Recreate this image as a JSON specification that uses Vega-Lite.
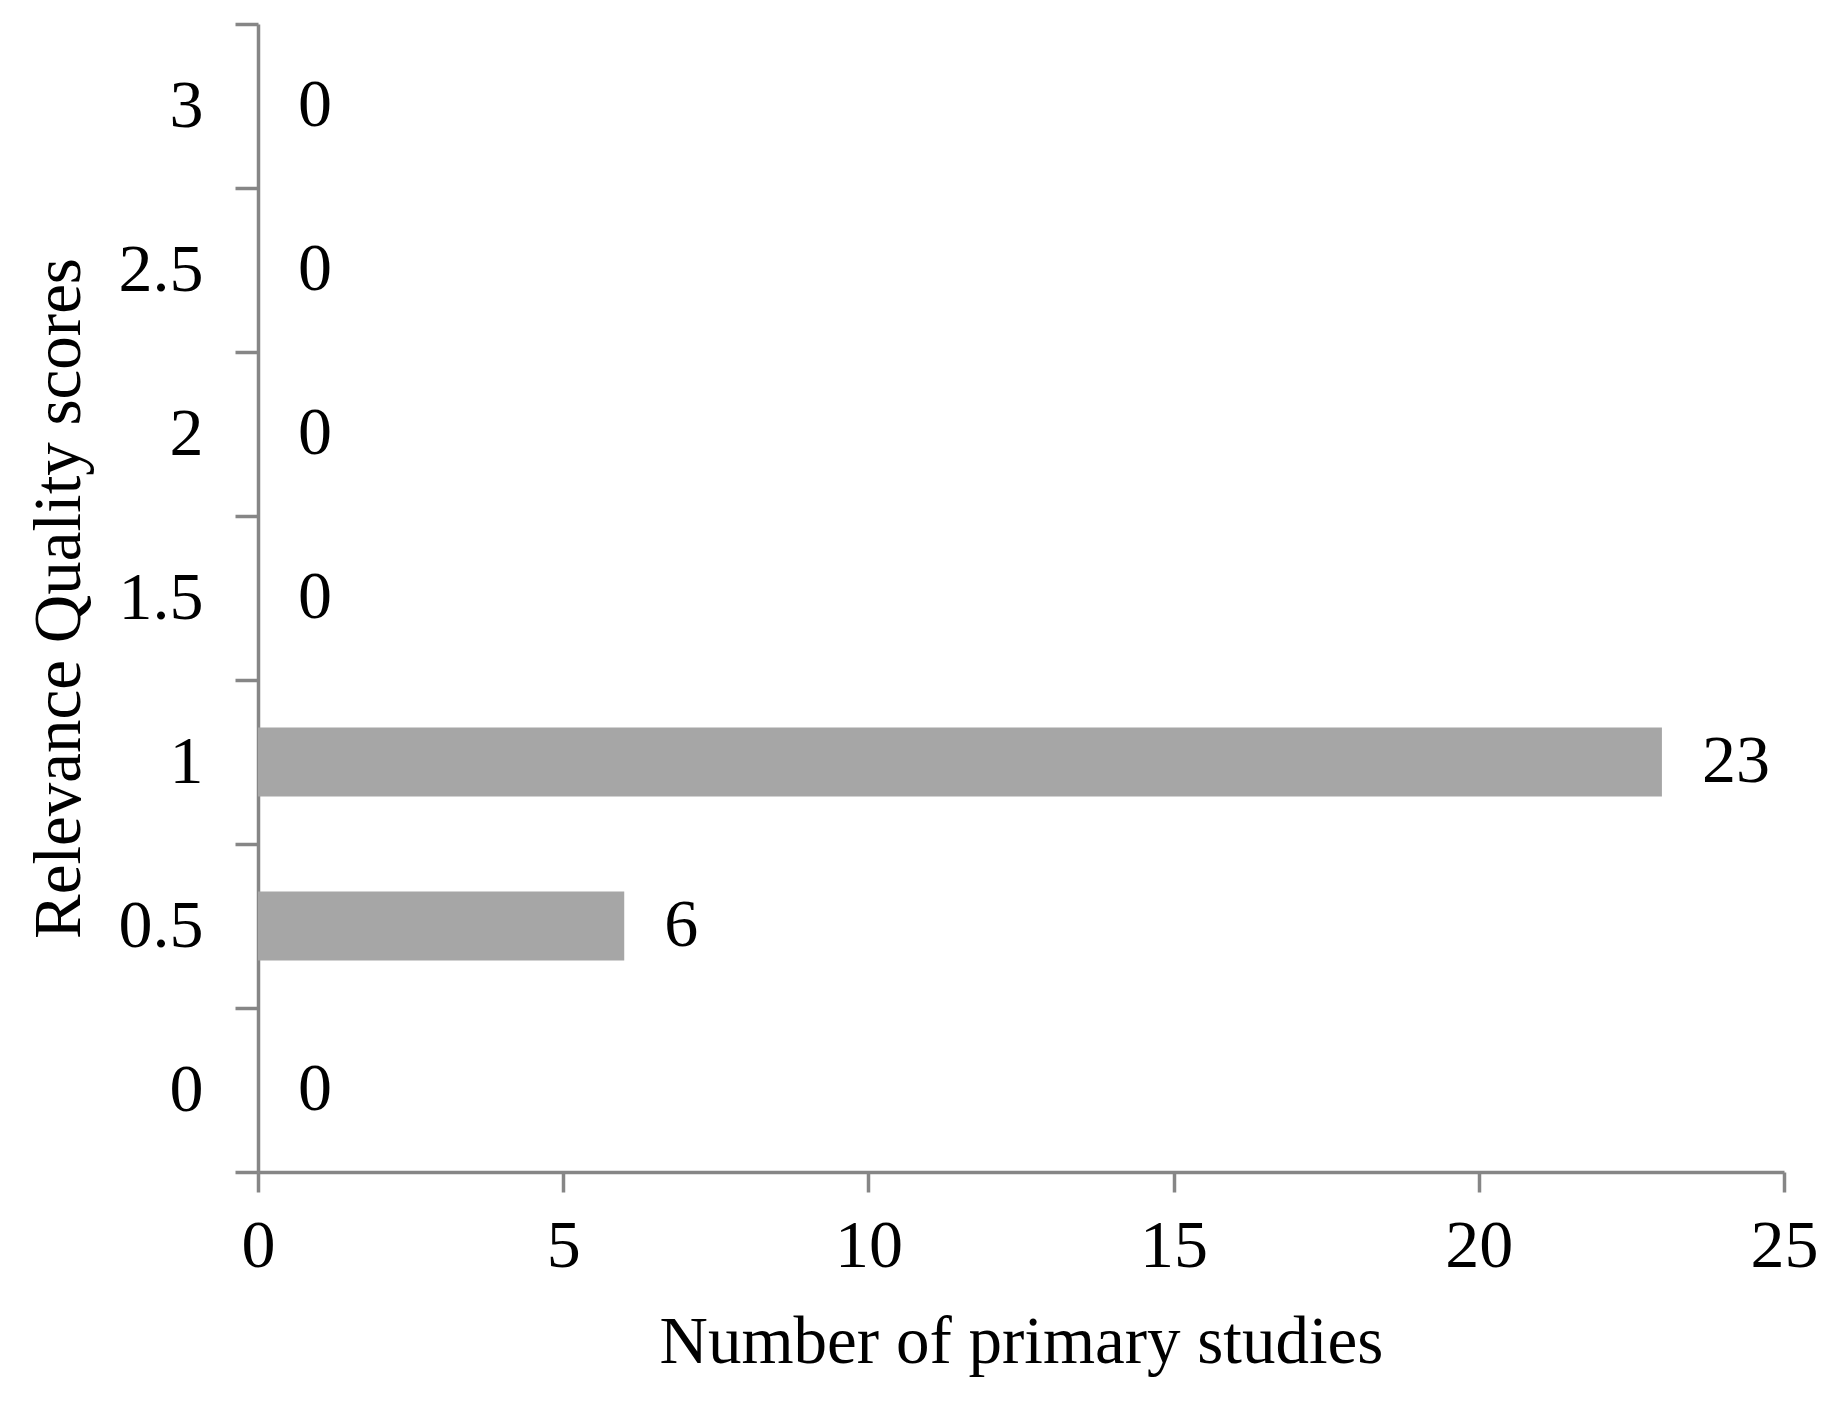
{
  "$schema": "https://vega.github.io/schema/vega-lite/v6.json",
  "autosize": "none",
  "width": 1526,
  "height": 1148,
  "padding": {"left": 258, "top": 24, "right": 57, "bottom": 232},
  "background": "white",
  "config": {
    "font": "Liberation Serif",
    "view": {"stroke": null},
    "axis": {
      "grid": false,
      "domainColor": "#868686",
      "tickColor": "#868686",
      "domainWidth": 3.5,
      "tickWidth": 3.5,
      "labelColor": "#000000",
      "titleColor": "#000000",
      "labelFont": "Liberation Serif",
      "titleFont": "Liberation Serif",
      "labelFontSize": 68,
      "titleFontSize": 67,
      "titleFontWeight": "normal"
    }
  },
  "data": {
    "values": [
      {"score": "0", "count": 0},
      {"score": "0.5", "count": 6},
      {"score": "1", "count": 23},
      {"score": "1.5", "count": 0},
      {"score": "2", "count": 0},
      {"score": "2.5", "count": 0},
      {"score": "3", "count": 0}
    ]
  },
  "encoding": {
    "y": {
      "field": "score",
      "type": "ordinal",
      "sort": ["3", "2.5", "2", "1.5", "1", "0.5", "0"],
      "scale": {"paddingInner": 0, "paddingOuter": 0},
      "axis": {
        "title": "Relevance Quality scores",
        "tickBand": "extent",
        "tickSize": 23,
        "labelPadding": 32,
        "labelAngle": 0,
        "titleX": -199,
        "titleY": 574,
        "titleAngle": -90,
        "titleAlign": "center",
        "titleBaseline": "middle"
      }
    },
    "x": {
      "field": "count",
      "type": "quantitative",
      "scale": {"domain": [0, 25]},
      "axis": {
        "title": "Number of primary studies",
        "values": [0, 5, 10, 15, 20, 25],
        "labelFlush": false,
        "tickSize": 20,
        "labelPadding": 20,
        "titleX": 763,
        "titleY": 190,
        "titleAlign": "center",
        "titleBaseline": "alphabetic"
      }
    }
  },
  "layer": [
    {"mark": {"type": "bar", "color": "#a6a6a6", "height": {"band": 0.42}}},
    {
      "mark": {"type": "text", "align": "left", "baseline": "middle", "dx": 40, "fontSize": 68, "color": "#000000", "font": "Liberation Serif"},
      "encoding": {"text": {"field": "count", "type": "quantitative"}}
    }
  ]
}
